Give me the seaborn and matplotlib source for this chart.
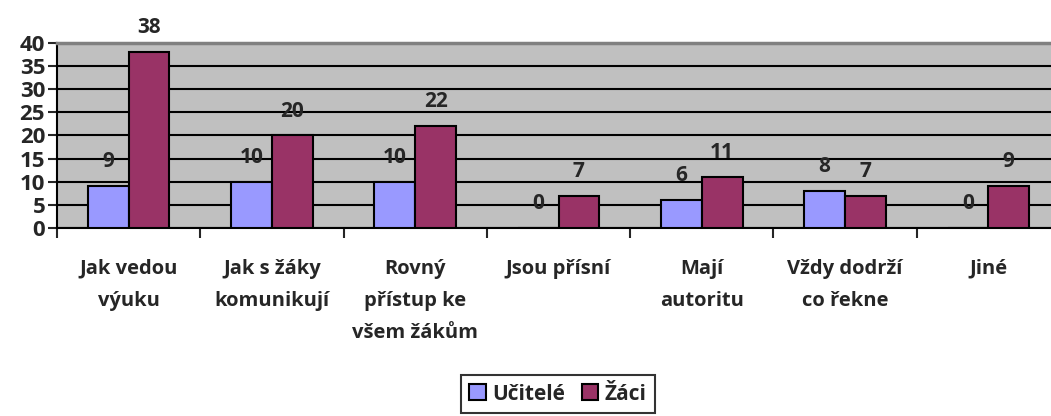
import pandas as pd
import numpy as np
import matplotlib.pyplot as plt
import seaborn as sns

categories = ["Jak vedou\nvýuku", "Jak s žáky\nkomunikují", "Rovný\npřístup ke\nvšem žákům",
              "Jsou přísní", "Mají\nautoritu", "Vždy dodrží\nco řekne", "Jiné"]
ucitele = [9, 10, 10, 0, 6, 8, 0]
zaci = [38, 20, 22, 7, 11, 7, 9]
series = ["Učitelé", "Žáci"]
colors = ["#9999FF", "#993366"]

df = pd.DataFrame({
    "kategorie": categories * 2,
    "hodnota": ucitele + zaci,
    "skupina": [series[0]] * len(categories) + [series[1]] * len(categories),
})

sns.set_style("white")
plt.rcParams["font.family"] = ["Open Sans", "DejaVu Sans"]
plt.rcParams["font.weight"] = "bold"

fig = plt.figure(figsize=(10.51, 4.16), dpi=100)
ax = fig.add_axes([0.0542, 0.452, 1.0086 - 0.0542, 0.897 - 0.452])
ax.set_facecolor("#C0C0C0")

sns.barplot(data=df, x="kategorie", y="hodnota", hue="skupina", palette=colors, saturation=1,
            width=0.57, edgecolor="black", linewidth=1.5, ax=ax, zorder=3)

for c in ax.containers:
    ax.bar_label(c, padding=10, fontsize=15, fontweight="bold")

ax.set_ylim(0, 40)
ax.set_xlim(-0.5, len(categories) - 0.5)
ax.set_yticks(range(0, 41, 5))
ax.yaxis.grid(True, color="black", linewidth=1.5, zorder=0)
ax.set_axisbelow(True)
ax.set_xlabel("")
ax.set_ylabel("")

for s in ["left", "bottom"]:
    ax.spines[s].set_color("black")
    ax.spines[s].set_linewidth(1.5)
ax.spines["right"].set_visible(False)
ax.spines["top"].set_color("#808080")
ax.spines["top"].set_linewidth(2.5)

ax.tick_params(axis="y", direction="out", length=6.5, width=1.5, labelsize=16, pad=2, left=True)
ax.tick_params(axis="x", which="major", length=0, pad=22, labelsize=14.5)
ax.set_xticks(np.arange(-0.5, len(categories)), minor=True)
ax.tick_params(axis="x", which="minor", direction="out", length=7, width=1.5, bottom=True)
for t in ax.get_xticklabels():
    t.set_fontweight("bold")
    t.set_linespacing(1.8)
    t.set_verticalalignment("top")
for t in ax.get_yticklabels():
    t.set_fontweight("bold")

ax.legend_.remove()
handles = [plt.Rectangle((0, 0), 1, 1, facecolor=col, edgecolor="black", linewidth=1.5) for col in colors]
leg = fig.legend(handles, series, loc="center", bbox_to_anchor=(558 / 1051, 1 - 394 / 416),
                 ncol=2, frameon=True, fancybox=False, edgecolor="black",
                 handlelength=0.8, handleheight=0.8, handletextpad=0.3, columnspacing=0.8,
                 borderpad=0.4, prop={"weight": "bold", "size": 15})
leg.get_frame().set_linewidth(1.5)

fig.savefig("out.png", dpi=100)
